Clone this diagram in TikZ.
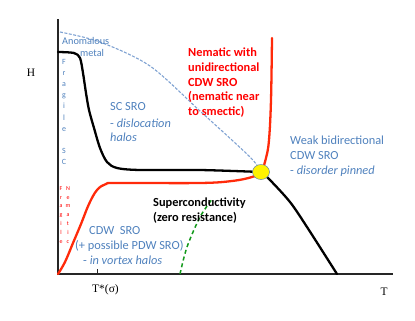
\documentclass[tikz,border=0pt]{standalone}
\usepackage{fontspec}
\setmainfont{Carlito}
\newfontfamily\axisfont{Liberation Serif}
\usepackage{tikz}
\usetikzlibrary{positioning, shapes.geometric}
\definecolor{phaseblue}{HTML}{4F81BD}
\definecolor{dashblue}{HTML}{7FA2D2}
\definecolor{boundred}{HTML}{FF2A0A}
\definecolor{nemred}{HTML}{FF0000}
\definecolor{scgreen}{HTML}{11991A}

\begin{document}
\begin{tikzpicture}[
    x=1bp, y=-1bp,
    axislbl/.style={font=\axisfont\fontsize{11.5}{13}\selectfont, inner sep=0pt},
    bluetxt/.style={text=phaseblue, font=\fontsize{12.4}{14}\selectfont, inner sep=0pt, anchor=west},
    redtxt/.style={text=nemred, font=\bfseries\fontsize{12.4}{14}\selectfont, inner sep=0pt, anchor=west},
    blktxt/.style={text=black, font=\bfseries\fontsize{12.4}{14}\selectfont, inner sep=0pt, anchor=west},
    vword/.style={align=center, inner sep=0pt, anchor=north},
    boundary/.style={line width=2.3pt, line cap=round, line join=round},
]
    \useasboundingbox (0,0) rectangle (415,321);

    % ── Axes ──
    \draw[line width=1.4pt, black!85] (58,19) -- (58,274) -- (393,274);
    \draw[line width=1pt, black!85] (97,269) -- (97,274);
    \node[axislbl] (hlbl) at (31,73) {H};
    \node[axislbl] (tlbl) at (384,292) {T};
    \node[axislbl] (tstar) at (105.5,290) {T*(σ)};

    % ── Crossover lines ──
    \draw[dashblue, line width=1.1pt, dash pattern=on 3pt off 1.5pt]
        plot[smooth] coordinates {(60,32) (100,42) (150,66) (200,111) (250,157) (261,172)};
    \draw[scgreen, line width=1.5pt, dash pattern=on 4pt off 3pt]
        plot[smooth] coordinates {(180,274) (187,247) (200,217) (213,198)};

    % ── Phase boundaries ──
    \draw[boundary, boundred]
        plot[smooth, tension=0.6] coordinates {(58,274) (65,262) (73,243) (81,224) (89,204) (97,190) (106,184) (118,183)
            (200,183) (232,181) (252,177) (261,172) (266,158) (269,140) (271,100) (272,38)};
    \draw[boundary, black]
        plot[smooth, tension=0.5] coordinates {(58,52) (74,53) (80,58) (83,73) (86,93) (89,110) (94,128) (100,148)
            (107,162) (117,168) (140,170) (200,170) (261,172)};
    \draw[boundary, black]
        plot[smooth, tension=0.5] coordinates {(261,172) (270,180) (290,202) (307,227) (337,274)};

    % ── Tricritical point ──
    \node[ellipse, draw=phaseblue!70!gray, line width=0.5pt, fill=yellow,
          minimum width=17bp, minimum height=15bp, inner sep=0pt] (tcp) at (261,172) {};

    % ── Region labels ──
    \node[bluetxt, font=\fontsize{10.3}{12}\selectfont] (anom) at (62,41) {Anomalous};
    \node[bluetxt, font=\fontsize{10.3}{12}\selectfont] (metal) at (80,53) {metal};

    \node[vword, text=phaseblue, font=\fontsize{8}{11.2}\selectfont] (fragsc) at (64,59)
        {F\\r\\a\\g\\i\\l\\e\\\mbox{}\\S\\C};
    \node[vword, text=nemred, font=\fontsize{6}{9}\selectfont] (fragred) at (61,186)
        {F\\r\\a\\g\\i\\l\\e};
    \node[vword, text=nemred, font=\fontsize{6}{9}\selectfont] (nemvert) at (68,186)
        {N\\e\\m\\a\\t\\i\\c};

    \node[bluetxt] (scsro) at (110,107) {SC SRO};
    \node[bluetxt] (disl)  at (110,123) {- \textit{dislocation}};
    \node[bluetxt] (halos) at (110,137) {\textit{halos}};

    \node[redtxt] (nem1) at (188,52) {Nematic with};
    \node[redtxt] (nem2) at (188,67) {unidirectional};
    \node[redtxt] (nem3) at (188,82) {CDW SRO};
    \node[redtxt] (nem4) at (188,97) {(nematic near};
    \node[redtxt] (nem5) at (188,112) {to smectic)};

    \node[bluetxt] (weak1) at (290,140) {Weak bidirectional};
    \node[bluetxt] (weak2) at (290,156) {CDW SRO};
    \node[bluetxt] (weak3) at (290,171) {- \textit{disorder pinned}};

    \node[blktxt] (sc1) at (153,203) {Superconductivity};
    \node[blktxt] (sc2) at (153,218) {(zero resistance)};

    \node[bluetxt] (cdw1) at (89,231) {CDW\ \ SRO};
    \node[bluetxt] (cdw2) at (75,246) {(+ possible PDW SRO)};
    \node[bluetxt] (cdw3) at (83,260) {- \textit{in vortex halos}};

\end{tikzpicture}
\end{document}
